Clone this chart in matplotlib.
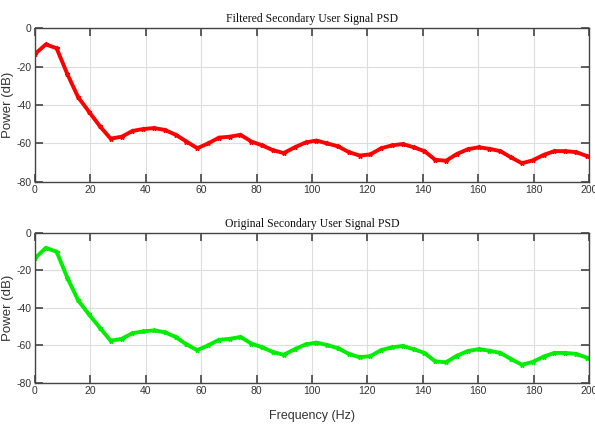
import matplotlib
matplotlib.use("Agg")
import matplotlib.pyplot as plt

freq = [0.0, 3.9, 7.8, 11.7, 15.6, 19.5, 23.4, 27.3, 31.3, 35.2, 39.1, 43.0, 46.9,
        50.8, 54.7, 58.6, 62.5, 66.4, 70.3, 74.2, 78.1, 82.0, 85.9, 89.8, 93.8, 97.7,
        101.6, 105.5, 109.4, 113.3, 117.2, 121.1, 125.0, 128.9, 132.8, 136.7, 140.6,
        144.5, 148.4, 152.3, 156.3, 160.2, 164.1, 168.0, 171.9, 175.8, 179.7, 183.6,
        187.5, 191.4, 195.3, 199.2]

filtered_psd = [-13.5, -8.5, -10.5, -24, -36, -43.5, -51, -57.5, -56.5, -53.5, -52.5, -52,
                -53, -55.5, -59, -62.5, -60, -57, -56.5, -55.5, -59, -61, -63.5, -65,
                -62, -59.5, -58.5, -60, -61.5, -64.5, -66.3, -65.7, -62.5, -61, -60.3,
                -62, -64, -68.5, -69, -65.5, -63, -62, -62.8, -64, -67.3, -70.3, -68.8,
                -66, -64, -64, -64.5, -66.5]

original_psd = [-13.5, -8.0, -10.0, -24, -36, -43.5, -50.5, -57.5, -56.5, -53.5, -52.5, -52,
                -53, -55.5, -59.5, -62.5, -60, -57, -56.5, -55.5, -59, -61, -63.5, -65,
                -62, -59.5, -58.5, -59.8, -61.5, -64.5, -66.3, -65.7, -62.5, -61, -60.3,
                -62, -64, -68.5, -69, -65.5, -63, -62, -62.8, -64, -67.3, -70.3, -68.8,
                -66, -64, -64, -64.5, -66.5]

titles = ["Filtered Secondary User Signal PSD", "Original Secondary User Signal PSD"]
xticks = [0, 20, 40, 60, 80, 100, 120, 140, 160, 180, 200]
yticks = [0, -20, -40, -60, -80]

fig = plt.figure(figsize=(5.95, 4.25), dpi=100)
ax1 = fig.add_axes([0.0588, 0.572, 0.931, 0.362])
ax2 = fig.add_axes([0.0588, 0.099, 0.931, 0.353])

tick_font = dict(family=["Liberation Sans Narrow", "Liberation Sans", "DejaVu Sans"], size=7.5)

for ax, y, col, title in [(ax1, filtered_psd, "#ff0000", titles[0]),
                          (ax2, original_psd, "#00ee00", titles[1])]:
    ax.plot(freq, y, color=col, lw=2.8, marker="*", ms=3.5, mec=col, mfc=col)
    ax.set_xlim(0, 200)
    ax.set_ylim(-80, 0)
    ax.set_xticks(xticks)
    ax.set_yticks(yticks)
    ax.set_xticklabels([str(v) for v in xticks], fontdict=tick_font, color="#333333")
    ax.set_yticklabels([str(v) for v in yticks], fontdict=tick_font, color="#333333")
    ax.grid(True, color="#dddddd", lw=0.8)
    ax.set_axisbelow(True)
    ax.tick_params(direction="in", length=6, width=1.2, top=True, right=True,
                   colors="#444444", labelcolor="#333333", pad=2.5)
    for s in ax.spines.values():
        s.set_color("#444444")
        s.set_linewidth(1.0)
    ax.set_title(title, family=["Liberation Serif", "DejaVu Serif"], size=8.5,
                 pad=4, color="#111111")
    ax.set_ylabel("Power (dB)", family=["Liberation Sans", "DejaVu Sans"], size=9.5,
                  color="#333333")
    ax.yaxis.set_label_coords(-0.037, 0.5)

ax2.set_xlabel("Frequency (Hz)", family=["Liberation Sans Narrow", "Liberation Sans", "DejaVu Sans"],
               size=9, color="#333333", labelpad=10)

fig.savefig("out.png", dpi=100)
